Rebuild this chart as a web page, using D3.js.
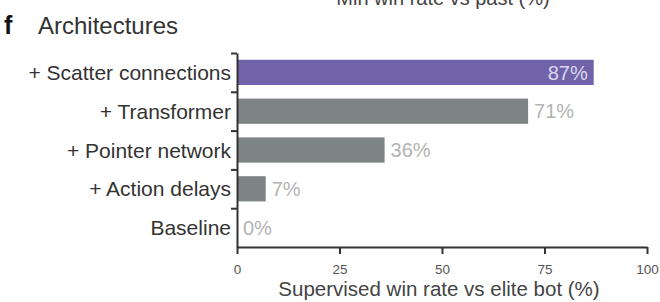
<!DOCTYPE html>
<html>
<head>
<meta charset="utf-8">
<script src="https://cdn.jsdelivr.net/npm/d3@7"></script>
<style>
  body { margin: 0; background: #fff; }
  svg { display: block; font-family: "Liberation Sans", Arial, Helvetica, sans-serif; }
</style>
</head>
<body>
<div id="chart"></div>
<script>
var categories = ["+ Scatter connections", "+ Transformer", "+ Pointer network", "+ Action delays", "Baseline"];
var winRates = [87, 71, 36, 7, 0];
var xTicks = [0, 25, 50, 75, 100];

var width = 660, height = 302;

var svg = d3.select("#chart")
  .append("svg")
  .attr("width", width)
  .attr("height", height);

var x = d3.scaleLinear().domain([0, 100]).range([237, 647]);
var y = d3.scaleBand().domain(categories).range([53, 247])
  .paddingInner(0.35).paddingOuter(0.175);

// cropped axis title of the panel above
svg.append("text")
  .attr("x", 443).attr("y", 5)
  .attr("text-anchor", "middle")
  .attr("font-size", 20)
  .attr("fill", "#444")
  .text("Min win rate vs past (%)");

// panel letter + title
svg.append("text")
  .attr("x", 4).attr("y", 34)
  .attr("font-size", 25).attr("font-weight", "bold")
  .attr("fill", "#111")
  .text("f");
svg.append("text")
  .attr("x", 38).attr("y", 34)
  .attr("font-size", 24)
  .attr("fill", "#333")
  .text("Architectures");

// bars
svg.selectAll(".bar")
  .data(winRates)
  .enter().append("rect")
  .attr("class", "bar")
  .attr("x", x(0))
  .attr("y", function(d, i){ return y(categories[i]); })
  .attr("width", function(d){ return x(d) - x(0); })
  .attr("height", y.bandwidth())
  .attr("fill", function(d, i){ return i == 0 ? "#7063aa" : "#7e8483"; });

// value labels
svg.selectAll(".val")
  .data(winRates)
  .enter().append("text")
  .attr("class", "val")
  .attr("x", function(d, i){ return i == 0 ? x(d) - 6 : x(d) + 6; })
  .attr("y", function(d, i){ return y(categories[i]) + y.bandwidth()/2; })
  .attr("dy", "0.36em")
  .attr("text-anchor", function(d, i){ return i == 0 ? "end" : "start"; })
  .attr("font-size", 20)
  .attr("fill", function(d, i){ return i == 0 ? "#dcd6ee" : "#b3b3b3"; })
  .text(function(d){ return d + "%"; });

// category labels
svg.selectAll(".cat")
  .data(categories)
  .enter().append("text")
  .attr("class", "cat")
  .attr("x", 231)
  .attr("y", function(d){ return y(d) + y.bandwidth()/2; })
  .attr("dy", "0.36em")
  .attr("text-anchor", "end")
  .attr("font-size", 21)
  .attr("fill", "#333")
  .text(function(d){ return d; });

// y axis: ticks sit on the band edges
var yEdge = d3.scaleLinear().domain([0, categories.length]).range([53, 247]);
var yAxis = svg.append("g")
  .attr("transform", "translate(" + x(0) + ",0)")
  .call(d3.axisLeft(yEdge).tickValues(d3.range(categories.length)).tickFormat("").tickSize(6).tickSizeOuter(0));

// x axis
var xAxis = svg.append("g")
  .attr("transform", "translate(0,247)")
  .call(d3.axisBottom(x).tickValues(xTicks).tickSize(7).tickSizeOuter(0).tickPadding(10));

xAxis.selectAll("text")
  .attr("font-size", 13.5)
  .attr("font-family", "Liberation Sans, Arial, sans-serif")
  .attr("fill", "#555");

svg.selectAll(".domain, .tick line")
  .attr("stroke", "#333")
  .attr("stroke-width", 2);

svg.append("text")
  .attr("x", 439).attr("y", 296)
  .attr("text-anchor", "middle")
  .attr("font-size", 20.5)
  .attr("fill", "#444")
  .text("Supervised win rate vs elite bot (%)");
</script>
</body>
</html>
